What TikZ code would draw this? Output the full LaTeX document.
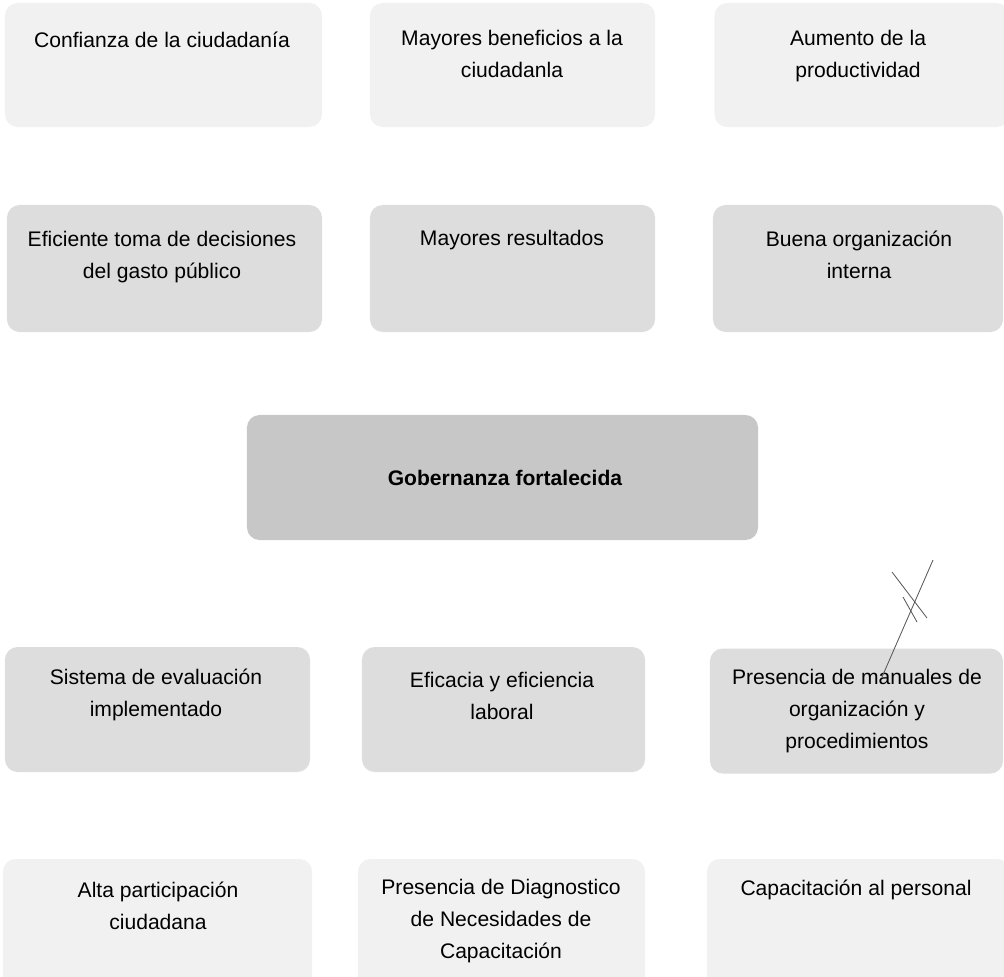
\documentclass[tikz,border=0pt]{standalone}
\usepackage{fontspec}
\setmainfont{Liberation Sans}
\usetikzlibrary{positioning}

\tikzset{
  caja/.style={rounded corners=9pt, inner sep=0pt, minimum height=3.1cm},
  claro/.style={caja, fill=gray!11},
  medio/.style={caja, fill=gray!27},
  oscuro/.style={caja, fill=gray!44},
  texto/.style={align=center, inner sep=0pt, font=\fontsize{15}{22.5}\selectfont}
}

\begin{document}
\begin{tikzpicture}[x=0.025cm, y=-0.025cm]
    \useasboundingbox (0,0) rectangle (1004,976);

    % fila de fines
    \node[claro, minimum width=7.925cm] (b11) at (163.5,65) {};
    \node[claro, minimum width=7.125cm] (b12) at (512.5,65) {};
    \node[claro, minimum width=7.375cm] (b13) at (862,65) {};
    \node[texto] (t11) at (162,40) {Confianza de la ciudadanía};
    \node[texto] (t12) at (512,54) {Mayores beneficios a la\\ciudadanla};
    \node[texto] (t13) at (858,56) {Aumento de la\\productividad};

    \node[medio, minimum width=7.875cm, minimum height=3.175cm] (b21) at (164.5,268.5) {};
    \node[medio, minimum width=7.125cm, minimum height=3.175cm] (b22) at (512.5,268.5) {};
    \node[medio, minimum width=7.25cm, minimum height=3.175cm] (b23) at (858,268.5) {};
    \node[texto] (t21) at (162,257) {Eficiente toma de decisiones\\del gasto público};
    \node[texto] (t22) at (512,240) {Mayores resultados};
    \node[texto] (t23) at (859,255) {Buena organización\\interna};

    % problema central
    \node[oscuro, minimum width=12.775cm, minimum height=3.125cm] (b3) at (502.5,477.5) {};
    \node[texto, font=\fontsize{15}{22.5}\selectfont\bfseries] (t3) at (505,478) {Gobernanza fortalecida};

    % medios
    \node[medio, minimum width=7.625cm, minimum height=3.125cm] (b41) at (157.5,709.5) {};
    \node[medio, minimum width=7.075cm, minimum height=3.125cm] (b42) at (503.5,709.5) {};
    \node[medio, minimum width=7.325cm, minimum height=3.125cm] (b43) at (856.5,711) {};
    \node[texto] (t41) at (156,695) {Sistema de evaluación\\implementado};
    \node[texto] (t42) at (502,696) {Eficacia y eficiencia\\laboral};
    \node[texto] (t43) at (857,711) {Presencia de manuales de\\organización y\\procedimientos};

    \node[claro, minimum width=7.725cm, minimum height=3.275cm] (b51) at (157.5,924.5) {};
    \node[claro, minimum width=7.175cm, minimum height=3.275cm] (b52) at (501.5,924.5) {};
    \node[claro, minimum width=7.575cm, minimum height=3.275cm] (b53) at (858.5,924.5) {};
    \node[texto] (t51) at (158,906) {Alta participación\\ciudadana};
    \node[texto] (t52) at (501,921) {Presencia de Diagnostico\\de Necesidades de\\Capacitación};
    \node[texto] (t53) at (856,890) {Capacitación al personal};

    % marca a mano
    \draw[line width=0.6pt, gray!70!black] (882,677) -- (933,560);
    \draw[line width=0.6pt, gray!70!black] (892,572) -- (927,618);
    \draw[line width=0.6pt, gray!70!black] (903,597) -- (917,622);

\end{tikzpicture}
\end{document}
